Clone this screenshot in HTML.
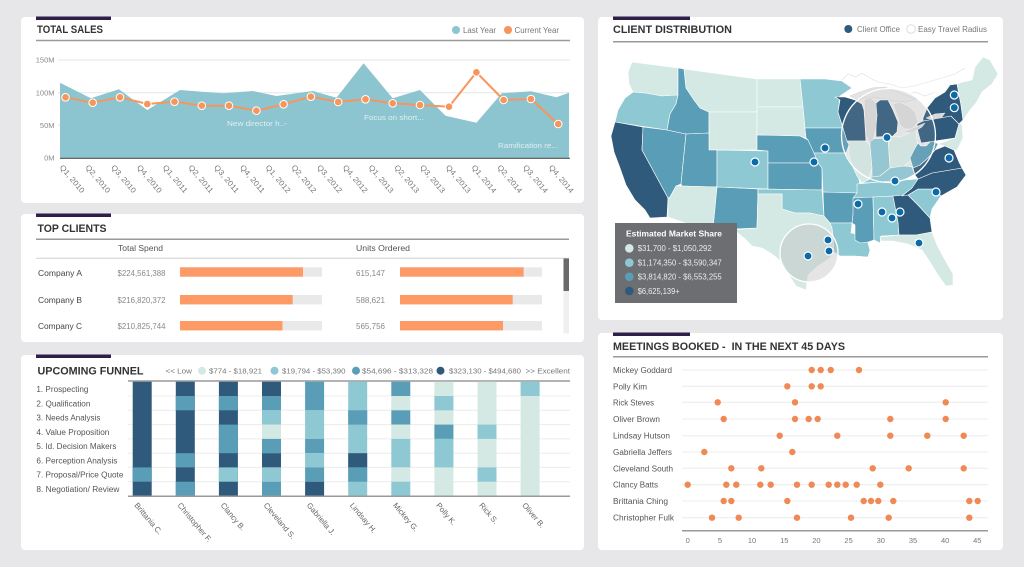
<!DOCTYPE html>
<html><head><meta charset="utf-8"><style>
html,body{margin:0;padding:0;background:#e7e7e9;}
svg{display:block;}
.L{fill:#d4e8e4}.Li{fill:#8ec8d3}.M{fill:#5a9db6}.D{fill:#2f5a7b}
.st path{stroke:#fff;stroke-width:0.6;stroke-linejoin:round}
.t{font-family:"Liberation Sans",sans-serif;}
</style></head><body>
<svg width="1024" height="567" viewBox="0 0 1024 567" class="t" font-family="Liberation Sans, sans-serif">
<rect width="1024" height="567" fill="#e7e7e9"/>
<!-- panels -->
<rect x="21" y="17" width="563" height="186" rx="4" fill="#fff"/>
<rect x="21" y="214" width="563" height="128" rx="4" fill="#fff"/>
<rect x="21" y="355" width="563" height="195" rx="4" fill="#fff"/>
<rect x="598" y="17" width="405" height="303" rx="4" fill="#fff"/>
<rect x="598" y="333" width="405" height="217" rx="4" fill="#fff"/>
<!-- purple accents -->
<rect x="36" y="16.5" width="75" height="3.5" fill="#2d1f47"/>
<rect x="36" y="213.5" width="75" height="3.5" fill="#2d1f47"/>
<rect x="36" y="354.5" width="75" height="3.5" fill="#2d1f47"/>
<rect x="613" y="16.5" width="77" height="3.5" fill="#2d1f47"/>
<rect x="613" y="332.5" width="77" height="3.5" fill="#2d1f47"/>

<!-- ===== TOTAL SALES ===== -->
<text x="37" y="33" font-size="11" font-weight="bold" fill="#333" textLength="66" lengthAdjust="spacingAndGlyphs">TOTAL SALES</text>
<circle cx="456" cy="30" r="4" fill="#8cc5cf"/>
<text x="463" y="33" font-size="8" fill="#777" textLength="33" lengthAdjust="spacingAndGlyphs">Last Year</text>
<circle cx="508" cy="30" r="4" fill="#f7955c"/>
<text x="514.5" y="33" font-size="8" fill="#777" textLength="44.5" lengthAdjust="spacingAndGlyphs">Current Year</text>
<line x1="36" y1="40.5" x2="570" y2="40.5" stroke="#9a9a9a" stroke-width="1.5"/>
<g stroke="#e6e6e6" stroke-width="1">
<line x1="58" y1="60" x2="570" y2="60"/><line x1="58" y1="92.7" x2="570" y2="92.7"/><line x1="58" y1="125.3" x2="570" y2="125.3"/>
</g>
<g font-size="7.5" fill="#8a8a8a" text-anchor="end">
<text x="54.5" y="62.7">150M</text><text x="54.5" y="95.4">100M</text><text x="54.5" y="128">50M</text><text x="54.5" y="160.7">0M</text>
</g>
<path d="M60,82.7 L90.9,98.3 L118.9,89.3 L147.3,110 L180,90 L201.8,91.7 L223.6,93.3 L252.7,91 L276.4,96 L312.7,91 L336.4,97.7 L363.6,63.3 L392.7,98.3 L420,90 L445.5,115.7 L476.4,122.7 L501.8,93.3 L530.9,91.3 L556.4,97.3 L569,92.7 L569,158 L60,158 Z" fill="#8cc5cf"/>
<line x1="60" y1="158.3" x2="570" y2="158.3" stroke="#555" stroke-width="1.2"/>
<g font-size="7.5" fill="#eef7f8" fill-opacity="0.85">
<text x="227" y="126" textLength="60" lengthAdjust="spacingAndGlyphs">New director h..-</text>
<text x="364" y="120" textLength="60" lengthAdjust="spacingAndGlyphs">Focus on short...</text>
<text x="498" y="148" textLength="60" lengthAdjust="spacingAndGlyphs">Ramification re...</text>
</g>
<polyline points="65.5,97.3 92.7,102.7 120,97.3 147.3,104 174.5,101.7 201.8,105.7 229,105.7 256.4,110.7 283.6,104.3 310.9,96.7 338.2,102 365.5,99.3 392.7,103.3 420,105 449,106.7 476.4,72.3 503.6,100 530.9,99 558.2,124" fill="none" stroke="#f7955c" stroke-width="2"/>
<g fill="#f7955c" stroke="#fff" stroke-width="1">
<circle cx="65.5" cy="97.3" r="3.8"/><circle cx="92.7" cy="102.7" r="3.8"/><circle cx="120" cy="97.3" r="3.8"/><circle cx="147.3" cy="104" r="3.8"/><circle cx="174.5" cy="101.7" r="3.8"/><circle cx="201.8" cy="105.7" r="3.8"/><circle cx="229" cy="105.7" r="3.8"/><circle cx="256.4" cy="110.7" r="3.8"/><circle cx="283.6" cy="104.3" r="3.8"/><circle cx="310.9" cy="96.7" r="3.8"/><circle cx="338.2" cy="102" r="3.8"/><circle cx="365.5" cy="99.3" r="3.8"/><circle cx="392.7" cy="103.3" r="3.8"/><circle cx="420" cy="105" r="3.8"/><circle cx="449" cy="106.7" r="3.8"/><circle cx="476.4" cy="72.3" r="3.8"/><circle cx="503.6" cy="100" r="3.8"/><circle cx="530.9" cy="99" r="3.8"/><circle cx="558.2" cy="124" r="3.8"/>
</g>
<g font-size="7.5" fill="#777">
<text transform="translate(59.4,167.5) rotate(50)" textLength="34" lengthAdjust="spacingAndGlyphs">Q1, 2010</text>
<text transform="translate(85.1,167.5) rotate(50)" textLength="34" lengthAdjust="spacingAndGlyphs">Q2, 2010</text>
<text transform="translate(110.9,167.5) rotate(50)" textLength="34" lengthAdjust="spacingAndGlyphs">Q3, 2010</text>
<text transform="translate(136.6,167.5) rotate(50)" textLength="34" lengthAdjust="spacingAndGlyphs">Q4, 2010</text>
<text transform="translate(162.4,167.5) rotate(50)" textLength="34" lengthAdjust="spacingAndGlyphs">Q1, 2011</text>
<text transform="translate(188.1,167.5) rotate(50)" textLength="34" lengthAdjust="spacingAndGlyphs">Q2, 2011</text>
<text transform="translate(213.8,167.5) rotate(50)" textLength="34" lengthAdjust="spacingAndGlyphs">Q3, 2011</text>
<text transform="translate(239.6,167.5) rotate(50)" textLength="34" lengthAdjust="spacingAndGlyphs">Q4, 2011</text>
<text transform="translate(265.3,167.5) rotate(50)" textLength="34" lengthAdjust="spacingAndGlyphs">Q1, 2012</text>
<text transform="translate(291.1,167.5) rotate(50)" textLength="34" lengthAdjust="spacingAndGlyphs">Q2, 2012</text>
<text transform="translate(316.8,167.5) rotate(50)" textLength="34" lengthAdjust="spacingAndGlyphs">Q3, 2012</text>
<text transform="translate(342.5,167.5) rotate(50)" textLength="34" lengthAdjust="spacingAndGlyphs">Q4, 2012</text>
<text transform="translate(368.3,167.5) rotate(50)" textLength="34" lengthAdjust="spacingAndGlyphs">Q1, 2013</text>
<text transform="translate(394,167.5) rotate(50)" textLength="34" lengthAdjust="spacingAndGlyphs">Q2, 2013</text>
<text transform="translate(419.8,167.5) rotate(50)" textLength="34" lengthAdjust="spacingAndGlyphs">Q3, 2013</text>
<text transform="translate(445.5,167.5) rotate(50)" textLength="34" lengthAdjust="spacingAndGlyphs">Q4, 2013</text>
<text transform="translate(471.2,167.5) rotate(50)" textLength="34" lengthAdjust="spacingAndGlyphs">Q1, 2014</text>
<text transform="translate(497,167.5) rotate(50)" textLength="34" lengthAdjust="spacingAndGlyphs">Q2, 2014</text>
<text transform="translate(522.7,167.5) rotate(50)" textLength="34" lengthAdjust="spacingAndGlyphs">Q3, 2014</text>
<text transform="translate(548.5,167.5) rotate(50)" textLength="34" lengthAdjust="spacingAndGlyphs">Q4, 2014</text>
</g>

<!-- ===== TOP CLIENTS ===== -->
<text x="37.5" y="232" font-size="11" font-weight="bold" fill="#333" textLength="69" lengthAdjust="spacingAndGlyphs">TOP CLIENTS</text>
<line x1="36" y1="239.3" x2="569" y2="239.3" stroke="#9a9a9a" stroke-width="1.5"/>
<text x="118" y="251" font-size="8" fill="#555" textLength="45" lengthAdjust="spacingAndGlyphs">Total Spend</text>
<text x="356" y="251" font-size="8" fill="#555" textLength="54" lengthAdjust="spacingAndGlyphs">Units Ordered</text>
<line x1="36" y1="258.3" x2="569" y2="258.3" stroke="#cfcfcf" stroke-width="1"/>
<rect x="563.5" y="258.5" width="5.5" height="75" fill="#efefef"/>
<rect x="563.5" y="258.5" width="5.5" height="32.5" fill="#6a6a6a"/>
<g font-size="8">
<text x="38" y="276" fill="#444" textLength="44" lengthAdjust="spacingAndGlyphs">Company A</text>
<text x="38" y="303" fill="#444" textLength="44" lengthAdjust="spacingAndGlyphs">Company B</text>
<text x="38" y="329" fill="#444" textLength="44" lengthAdjust="spacingAndGlyphs">Company C</text>
<text x="117.5" y="276" fill="#888" textLength="48" lengthAdjust="spacingAndGlyphs">$224,561,388</text>
<text x="117.5" y="303" fill="#888" textLength="48" lengthAdjust="spacingAndGlyphs">$216,820,372</text>
<text x="117.5" y="329" fill="#888" textLength="48" lengthAdjust="spacingAndGlyphs">$210,825,744</text>
<text x="356" y="276" fill="#888" textLength="29" lengthAdjust="spacingAndGlyphs">615,147</text>
<text x="356" y="303" fill="#888" textLength="29" lengthAdjust="spacingAndGlyphs">588,621</text>
<text x="356" y="329" fill="#888" textLength="29" lengthAdjust="spacingAndGlyphs">565,756</text>
</g>
<g fill="#e9e9e9">
<rect x="180" y="267.3" width="142" height="9.4"/><rect x="180" y="295" width="142" height="9.4"/><rect x="180" y="321" width="142" height="9.4"/>
<rect x="400" y="267.3" width="142" height="9.4"/><rect x="400" y="295" width="142" height="9.4"/><rect x="400" y="321" width="142" height="9.4"/>
</g>
<g fill="#fd9a66">
<rect x="180" y="267.3" width="123" height="9.4"/><rect x="180" y="295" width="112.7" height="9.4"/><rect x="180" y="321" width="102.5" height="9.4"/>
<rect x="400" y="267.3" width="123.6" height="9.4"/><rect x="400" y="295" width="112.7" height="9.4"/><rect x="400" y="321" width="103" height="9.4"/>
</g>

<!-- ===== UPCOMING FUNNEL ===== -->
<text x="37.5" y="374.5" font-size="11" font-weight="bold" fill="#333" textLength="106" lengthAdjust="spacingAndGlyphs">UPCOMING FUNNEL</text>
<g font-size="7.5" fill="#777">
<text x="165.5" y="373.5" textLength="26.5" lengthAdjust="spacingAndGlyphs">&lt;&lt; Low</text>
<circle cx="202" cy="370.7" r="4" fill="#d4e8e4"/>
<text x="209" y="373.5" textLength="53" lengthAdjust="spacingAndGlyphs">$774 - $18,921</text>
<circle cx="274.5" cy="370.7" r="4" fill="#8ec8d3"/>
<text x="282" y="373.5" textLength="63.5" lengthAdjust="spacingAndGlyphs">$19,794 - $53,390</text>
<circle cx="356" cy="370.7" r="4" fill="#5a9db6"/>
<text x="362" y="373.5" textLength="71" lengthAdjust="spacingAndGlyphs">$54,696 - $313,328</text>
<circle cx="440.5" cy="370.7" r="4" fill="#2f5a7b"/>
<text x="449" y="373.5" textLength="72" lengthAdjust="spacingAndGlyphs">$323,130 - $494,680</text>
<text x="525.5" y="373.5" textLength="44.5" lengthAdjust="spacingAndGlyphs">&gt;&gt; Excellent</text>
</g>
<line x1="128" y1="381" x2="570" y2="381" stroke="#9a9a9a" stroke-width="1.5"/>
<g stroke="#ececec" stroke-width="1">
<line x1="128" y1="396" x2="570" y2="396"/><line x1="128" y1="410.3" x2="570" y2="410.3"/><line x1="128" y1="424.6" x2="570" y2="424.6"/><line x1="128" y1="438.9" x2="570" y2="438.9"/><line x1="128" y1="453.2" x2="570" y2="453.2"/><line x1="128" y1="467.4" x2="570" y2="467.4"/><line x1="128" y1="481.7" x2="570" y2="481.7"/>
</g>
<g font-size="8" fill="#555">
<text x="36.4" y="392" textLength="52" lengthAdjust="spacingAndGlyphs">1. Prospecting</text>
<text x="36.4" y="406.3" textLength="54" lengthAdjust="spacingAndGlyphs">2. Qualification</text>
<text x="36.4" y="420.6" textLength="64" lengthAdjust="spacingAndGlyphs">3. Needs Analysis</text>
<text x="36.4" y="434.9" textLength="73" lengthAdjust="spacingAndGlyphs">4. Value Proposition</text>
<text x="36.4" y="449.2" textLength="80" lengthAdjust="spacingAndGlyphs">5. Id. Decision Makers</text>
<text x="36.4" y="463.4" textLength="81" lengthAdjust="spacingAndGlyphs">6. Perception Analysis</text>
<text x="36.4" y="477.7" textLength="87" lengthAdjust="spacingAndGlyphs">7. Proposal/Price Quote</text>
<text x="36.4" y="492" textLength="83" lengthAdjust="spacingAndGlyphs">8. Negotiation/ Review</text>
</g>
<g>
<rect class="D" x="132.7" y="381.7" width="19" height="114.3"/>
<rect class="M" x="132.7" y="467.4" width="19" height="14.3"/>
<rect class="D" x="175.8" y="381.7" width="19" height="114.3"/>
<rect class="M" x="175.8" y="396" width="19" height="14.3"/>
<rect class="M" x="175.8" y="453.2" width="19" height="14.2"/>
<rect class="M" x="175.8" y="481.7" width="19" height="14.3"/>
<rect class="D" x="218.9" y="381.7" width="19" height="114.3"/>
<rect class="M" x="218.9" y="396" width="19" height="14.3"/>
<rect class="M" x="218.9" y="424.6" width="19" height="28.6"/>
<rect class="Li" x="218.9" y="467.4" width="19" height="14.3"/>
<rect class="D" x="262" y="381.7" width="19" height="14.3"/>
<rect class="M" x="262" y="396" width="19" height="14.3"/>
<rect class="Li" x="262" y="410.3" width="19" height="14.3"/>
<rect class="L" x="262" y="424.6" width="19" height="14.3"/>
<rect class="M" x="262" y="438.9" width="19" height="14.3"/>
<rect class="D" x="262" y="453.2" width="19" height="14.2"/>
<rect class="Li" x="262" y="467.4" width="19" height="14.3"/>
<rect class="M" x="262" y="481.7" width="19" height="14.3"/>
<rect class="M" x="305.1" y="381.7" width="19" height="28.6"/>
<rect class="Li" x="305.1" y="410.3" width="19" height="28.6"/>
<rect class="M" x="305.1" y="438.9" width="19" height="14.3"/>
<rect class="Li" x="305.1" y="453.2" width="19" height="14.2"/>
<rect class="M" x="305.1" y="467.4" width="19" height="14.3"/>
<rect class="D" x="305.1" y="481.7" width="19" height="14.3"/>
<rect class="Li" x="348.2" y="381.7" width="19" height="114.3"/>
<rect class="M" x="348.2" y="410.3" width="19" height="14.3"/>
<rect class="D" x="348.2" y="453.2" width="19" height="14.2"/>
<rect class="M" x="348.2" y="467.4" width="19" height="14.3"/>
<rect class="M" x="391.3" y="381.7" width="19" height="14.3"/>
<rect class="L" x="391.3" y="396" width="19" height="14.3"/>
<rect class="M" x="391.3" y="410.3" width="19" height="14.3"/>
<rect class="L" x="391.3" y="424.6" width="19" height="14.3"/>
<rect class="Li" x="391.3" y="438.9" width="19" height="28.5"/>
<rect class="L" x="391.3" y="467.4" width="19" height="14.3"/>
<rect class="Li" x="391.3" y="481.7" width="19" height="14.3"/>
<rect class="L" x="434.4" y="381.7" width="19" height="114.3"/>
<rect class="Li" x="434.4" y="396" width="19" height="14.3"/>
<rect class="M" x="434.4" y="424.6" width="19" height="14.3"/>
<rect class="Li" x="434.4" y="438.9" width="19" height="28.5"/>
<rect class="L" x="477.5" y="381.7" width="19" height="114.3"/>
<rect class="Li" x="477.5" y="424.6" width="19" height="14.3"/>
<rect class="Li" x="477.5" y="467.4" width="19" height="14.3"/>
<rect class="L" x="520.6" y="381.7" width="19" height="114.3"/>
<rect class="Li" x="520.6" y="381.7" width="19" height="14.3"/>
</g>
<line x1="128" y1="496.3" x2="570" y2="496.3" stroke="#9a9a9a" stroke-width="1.5"/>
<g font-size="7.8" fill="#666">
<text transform="translate(134,505.5) rotate(50)">Brittania C.</text>
<text transform="translate(177.1,505.5) rotate(50)">Christopher F.</text>
<text transform="translate(220.2,505.5) rotate(50)">Clancy B.</text>
<text transform="translate(263.3,505.5) rotate(50)">Cleveland S.</text>
<text transform="translate(306.4,505.5) rotate(50)">Gabriella J.</text>
<text transform="translate(349.5,505.5) rotate(50)">Lindsay H.</text>
<text transform="translate(392.6,505.5) rotate(50)">Mickey G.</text>
<text transform="translate(435.7,505.5) rotate(50)">Polly K.</text>
<text transform="translate(478.8,505.5) rotate(50)">Rick S.</text>
<text transform="translate(521.9,505.5) rotate(50)">Oliver B.</text>
</g>

<!-- ===== CLIENT DISTRIBUTION ===== -->
<text x="613" y="33" font-size="11" font-weight="bold" fill="#333" textLength="119" lengthAdjust="spacingAndGlyphs">CLIENT DISTRIBUTION</text>
<circle cx="848.3" cy="29" r="4" fill="#2f5a7b"/>
<text x="857" y="32" font-size="8" fill="#777" textLength="43" lengthAdjust="spacingAndGlyphs">Client Office</text>
<circle cx="911" cy="29" r="4.3" fill="#fff" stroke="#ddd" stroke-width="1"/>
<text x="918" y="32" font-size="8" fill="#777" textLength="69" lengthAdjust="spacingAndGlyphs">Easy Travel Radius</text>
<line x1="613" y1="41.7" x2="988" y2="41.7" stroke="#9a9a9a" stroke-width="1.5"/>

<!-- faint canada outlines -->
<g fill="none" stroke="#dedede" stroke-width="0.6">
<path d="M842,80 L848,74 L856,77 L862,73 L870,78 L878,82"/>
<path d="M878,82 L890,84 L902,88 L914,86 L928,82 L942,78 L955,74 L965,68"/>
<path d="M905,96 L915,92 L925,96 L935,92"/>
</g>
<!-- gray underlay inside travel circle -->
<circle cx="888.5" cy="135.5" r="47" fill="#e8e8e8"/>
<!-- Upper peninsula land -->
<path d="M850,96 L860,92 L872,88 L885,87 L895,91 L905,95 L916,99 L906,102 L893,101 L880,98 L868,97 L858,100 Z" fill="#e4e4e4" stroke="#cfcfcf" stroke-width="0.5"/>

<g class="st">
<path class="L" d="M632,62 L678,68 L678,95 L662,96 L645,93 L633,92 L629,84 L628,72 Z"/>
<path class="Li" d="M633,92 L645,93 L662,96 L678,95 L676,104 L670,114 L667,130 L640,126 L615,122 L618,110 L625,98 Z"/>
<path class="D" d="M615,122 L643,127 L642,150 L668,198 L667,217 L650,218 L645,210 L635,200 L626,185 L620,168 L614,152 L611,136 Z"/>
<path class="M" d="M643,127 L667,130 L686,134 L681,184 L676,186 L670,197 L668,198 L642,150 Z"/>
<path class="M" d="M678,68 L684,69 L686,88 L694,100 L700,108 L709,112 L709,133 L686,134 L667,130 L670,114 L676,104 L678,95 Z"/>
<path class="L" d="M684,69 L720,74 L757,79 L757,112 L709,112 L700,108 L694,100 L686,88 Z"/>
<path class="L" d="M709,112 L757,112 L757,150 L709,150 Z"/>
<path class="M" d="M686,134 L709,133 L709,150 L717,150 L717,187 L682,186 L681,184 Z"/>
<path class="Li" d="M717,150 L768,151 L768,189 L717,187 Z"/>
<path class="L" d="M682,186 L717,187 L713,229 L697,227 L668,217 L668,198 L670,197 L676,186 Z"/>
<path class="M" d="M717,187 L758,189 L757,228 L732,229 L732,232 L714,231 L713,229 Z"/>
<path class="L" d="M757,79 L800,79 L803,107 L757,107 Z"/>
<path class="L" d="M757,107 L803,107 L805,128 L806,138 L800,136 L757,135 Z"/>
<path class="M" d="M757,135 L800,136 L808,140 L814,150 L818,163 L768,163 L768,151 L757,150 Z"/>
<path class="M" d="M768,163 L818,163 L822,168 L822,190 L768,189 Z"/>
<path class="Li" d="M758,189 L822,190 L824,216 L810,213 L795,213 L782,209 L782,194 L758,194 Z"/>
<path class="L" d="M758,194 L782,194 L782,209 L795,213 L810,213 L824,216 L832,218 L833,235 L836,250 L830,258 L818,266 L808,275 L806,290 L796,286 L789,275 L782,262 L772,254 L762,248 L752,246 L744,238 L734,230 L757,228 Z"/>
<path class="Li" d="M800,79 L825,79 L842,81 L852,88 L840,96 L838,112 L843,128 L805,128 L803,107 Z"/>
<path class="M" d="M805,128 L843,128 L848,135 L849,145 L846,153 L814,153 L808,140 L806,138 Z"/>
<path class="Li" d="M814,153 L846,153 L850,160 L857,170 L860,185 L857,193 L823,192 L822,168 L818,163 Z"/>
<path class="M" d="M823,192 L857,193 L855,205 L853,215 L852,223 L830,223 L824,216 Z"/>
<path class="Li" d="M830,223 L852,223 L851,233 L866,236 L870,250 L868,257 L855,256 L840,256 L834,252 L833,235 L832,228 Z"/>
<path class="D" d="M835,97 L845,97 L855,100 L862,104 L864,110 L865,125 L866,141 L847,141 L843,128 L838,112 L840,100 Z"/>
<path class="L" d="M847,141 L866,141 L870,145 L872,168 L868,180 L862,183 L857,176 L852,165 L849,155 L849,145 Z"/>
<path class="D" d="M875,104 L880,100 L888,100 L893,110 L898,122 L897,132 L893,136 L876,137 L876,125 L877,115 Z"/>
<path class="Li" d="M870,139 L888,138 L890,168 L880,176 L872,177 L872,168 L870,145 Z"/>
<path class="L" d="M888,136 L900,137 L916,130 L918,150 L912,160 L904,166 L890,168 Z"/>
<path class="Li" d="M862,183 L868,180 L872,177 L880,176 L890,168 L904,166 L912,167 L915,175 L905,180 L880,182 Z"/>
<path class="Li" d="M857,184 L880,182 L905,180 L918,179 L912,188 L902,196 L853,198 L857,193 Z"/>
<path class="M" d="M853,198 L873,197 L874,240 L868,242 L860,243 L855,240 L855,225 L852,223 L853,215 Z"/>
<path class="Li" d="M873,197 L893,196 L898,222 L899,235 L881,236 L880,243 L874,240 Z"/>
<path class="D" d="M893,196 L908,195 L918,205 L930,218 L932,232 L916,235 L899,235 L898,222 Z"/>
<path class="L" d="M880,237 L899,235 L916,235 L932,232 L937,245 L945,260 L953,274 L953,285 L946,286 L938,275 L930,262 L922,250 L908,244 L893,241 L881,241 Z"/>
<path class="Li" d="M908,195 L918,189 L935,189 L941,196 L932,209 L930,218 L918,205 Z"/>
<path class="D" d="M902,196 L912,188 L918,179 L932,173 L962,168 L966,175 L957,187 L941,196 L935,189 L918,189 L908,195 Z"/>
<path class="D" d="M915,175 L913,168 L920,165 L928,158 L935,150 L945,146 L954,150 L959,162 L962,168 L932,173 L918,179 Z"/>
<path class="M" d="M913,168 L910,158 L914,150 L918,143 L921,146 L926,146 L932,140 L938,144 L935,150 L928,158 L920,165 Z"/>
<path class="D" d="M917,124 L923,121 L951,116 L959,124 L955,138 L921,143 L918,132 Z"/>
<path class="D" d="M923,118 L927,108 L935,98 L945,92 L950,85 L957,84 L961,105 L963,120 L959,124 L951,116 L923,121 Z"/>
<path class="L" d="M957,84 L963,82 L972,80 L975,67 L983,57 L990,60 L998,74 L992,84 L982,92 L976,103 L970,110 L963,120 L961,105 Z"/>
<path class="L" d="M959,124 L962,124 L963,138 L957,150 L954,150 L945,146 L938,144 L955,138 Z"/>
</g>
<!-- lakes -->
<g fill="#d8d8d8" stroke="#f4f4f4" stroke-width="0.5">
<path d="M864,100 L870,97 L876,103 L877,115 L876,128 L873,140 L869,142 L866,135 L865,120 Z"/>
<path d="M893,104 L900,102 L908,106 L915,112 L918,122 L912,129 L905,129 L900,125 L898,117 L895,110 Z"/>
<path d="M903,132 L913,128 L925,123 L922,127 L912,133 Z"/>
<path d="M926,118 L935,114 L945,113 L942,117 L930,119 Z"/>
</g>
<!-- radius circles -->
<circle cx="888.5" cy="135.5" r="47" fill="#c8c8c8" fill-opacity="0.12" stroke="#fff" stroke-width="1.3"/>
<circle cx="809" cy="253" r="29" fill="#bdbdbd" fill-opacity="0.4" stroke="#fff" stroke-width="1.3"/>
<!-- offices -->
<g fill="#0b6aa8" stroke="#fff" stroke-width="1.2">
<circle cx="755" cy="162" r="4"/><circle cx="825" cy="148" r="4"/><circle cx="814" cy="162" r="4"/><circle cx="887" cy="137.5" r="4"/><circle cx="895" cy="181" r="4"/><circle cx="954.3" cy="95" r="4"/><circle cx="954.3" cy="107.7" r="4"/><circle cx="949" cy="158" r="4"/><circle cx="936" cy="192" r="4"/><circle cx="858" cy="204" r="4"/><circle cx="882" cy="212" r="4"/><circle cx="892" cy="218" r="4"/><circle cx="900" cy="212" r="4"/><circle cx="919" cy="243" r="4"/><circle cx="828" cy="240" r="4"/><circle cx="829" cy="251" r="4"/><circle cx="808" cy="256" r="4"/>
</g>
<!-- map legend -->
<rect x="615" y="223" width="122" height="80" fill="#6d6e71"/>
<text x="626" y="236.5" font-size="8.5" font-weight="bold" fill="#fff" textLength="96" lengthAdjust="spacingAndGlyphs">Estimated Market Share</text>
<circle cx="629.3" cy="248.3" r="4.3" fill="#d4e8e4"/>
<circle cx="629.3" cy="262.7" r="4.3" fill="#8ec8d3"/>
<circle cx="629.3" cy="276.7" r="4.3" fill="#5a9db6"/>
<circle cx="629.3" cy="291" r="4.3" fill="#2f5a7b"/>
<g font-size="8" fill="#ececec">
<text x="637.7" y="251.2" textLength="74" lengthAdjust="spacingAndGlyphs">$31,700 - $1,050,292</text>
<text x="637.7" y="265.6" textLength="84" lengthAdjust="spacingAndGlyphs">$1,174,350 - $3,590,347</text>
<text x="637.7" y="279.6" textLength="84" lengthAdjust="spacingAndGlyphs">$3,814,820 - $6,553,255</text>
<text x="637.7" y="293.9" textLength="42" lengthAdjust="spacingAndGlyphs">$6,625,139+</text>
</g>

<!-- ===== MEETINGS BOOKED ===== -->
<text x="613" y="350" font-size="11" font-weight="bold" fill="#333" textLength="232" lengthAdjust="spacingAndGlyphs">MEETINGS BOOKED -&#160; IN THE NEXT 45 DAYS</text>
<line x1="613" y1="356.7" x2="988" y2="356.7" stroke="#9a9a9a" stroke-width="1.5"/>
<g stroke="#ececec" stroke-width="1">
<line x1="682" y1="370" x2="988" y2="370"/><line x1="682" y1="386.3" x2="988" y2="386.3"/><line x1="682" y1="402.3" x2="988" y2="402.3"/><line x1="682" y1="419" x2="988" y2="419"/><line x1="682" y1="435.7" x2="988" y2="435.7"/><line x1="682" y1="452" x2="988" y2="452"/><line x1="682" y1="468.3" x2="988" y2="468.3"/><line x1="682" y1="484.7" x2="988" y2="484.7"/><line x1="682" y1="501" x2="988" y2="501"/><line x1="682" y1="517.7" x2="988" y2="517.7"/>
</g>
<g font-size="8" fill="#555">
<text x="613" y="373" textLength="59" lengthAdjust="spacingAndGlyphs">Mickey Goddard</text>
<text x="613" y="389.3" textLength="34" lengthAdjust="spacingAndGlyphs">Polly Kim</text>
<text x="613" y="405.3" textLength="41" lengthAdjust="spacingAndGlyphs">Rick Steves</text>
<text x="613" y="422" textLength="47" lengthAdjust="spacingAndGlyphs">Oliver Brown</text>
<text x="613" y="438.7" textLength="57" lengthAdjust="spacingAndGlyphs">Lindsay Hutson</text>
<text x="613" y="455" textLength="59" lengthAdjust="spacingAndGlyphs">Gabriella Jeffers</text>
<text x="613" y="471.3" textLength="60" lengthAdjust="spacingAndGlyphs">Cleveland South</text>
<text x="613" y="487.7" textLength="45" lengthAdjust="spacingAndGlyphs">Clancy Batts</text>
<text x="613" y="504" textLength="55" lengthAdjust="spacingAndGlyphs">Brittania Ching</text>
<text x="613" y="520.7" textLength="61" lengthAdjust="spacingAndGlyphs">Christopher Fulk</text>
</g>
<g fill="#f08a55">
<circle cx="811.7" cy="370" r="3.2"/><circle cx="820.7" cy="370" r="3.2"/><circle cx="830.7" cy="370" r="3.2"/><circle cx="859" cy="370" r="3.2"/>
<circle cx="787.3" cy="386.3" r="3.2"/><circle cx="811.7" cy="386.3" r="3.2"/><circle cx="820.7" cy="386.3" r="3.2"/>
<circle cx="717.7" cy="402.3" r="3.2"/><circle cx="795" cy="402.3" r="3.2"/><circle cx="945.7" cy="402.3" r="3.2"/>
<circle cx="723.7" cy="419" r="3.2"/><circle cx="795" cy="419" r="3.2"/><circle cx="808.7" cy="419" r="3.2"/><circle cx="817.7" cy="419" r="3.2"/><circle cx="890.3" cy="419" r="3.2"/><circle cx="945.7" cy="419" r="3.2"/>
<circle cx="779.7" cy="435.7" r="3.2"/><circle cx="837.3" cy="435.7" r="3.2"/><circle cx="890.3" cy="435.7" r="3.2"/><circle cx="927.3" cy="435.7" r="3.2"/><circle cx="963.7" cy="435.7" r="3.2"/>
<circle cx="704.3" cy="452" r="3.2"/><circle cx="792.3" cy="452" r="3.2"/>
<circle cx="731.3" cy="468.3" r="3.2"/><circle cx="761.3" cy="468.3" r="3.2"/><circle cx="872.7" cy="468.3" r="3.2"/><circle cx="908.7" cy="468.3" r="3.2"/><circle cx="963.7" cy="468.3" r="3.2"/>
<circle cx="687.7" cy="484.7" r="3.2"/><circle cx="726.3" cy="484.7" r="3.2"/><circle cx="736.3" cy="484.7" r="3.2"/><circle cx="760.3" cy="484.7" r="3.2"/><circle cx="770.7" cy="484.7" r="3.2"/><circle cx="797" cy="484.7" r="3.2"/><circle cx="811.7" cy="484.7" r="3.2"/><circle cx="828.7" cy="484.7" r="3.2"/><circle cx="837.3" cy="484.7" r="3.2"/><circle cx="845.7" cy="484.7" r="3.2"/><circle cx="856.7" cy="484.7" r="3.2"/><circle cx="880.3" cy="484.7" r="3.2"/>
<circle cx="723.7" cy="501" r="3.2"/><circle cx="731.3" cy="501" r="3.2"/><circle cx="787.3" cy="501" r="3.2"/><circle cx="863.7" cy="501" r="3.2"/><circle cx="871" cy="501" r="3.2"/><circle cx="878.3" cy="501" r="3.2"/><circle cx="893.3" cy="501" r="3.2"/><circle cx="969.3" cy="501" r="3.2"/><circle cx="977.7" cy="501" r="3.2"/>
<circle cx="712" cy="517.7" r="3.2"/><circle cx="738.7" cy="517.7" r="3.2"/><circle cx="797" cy="517.7" r="3.2"/><circle cx="851" cy="517.7" r="3.2"/><circle cx="888.7" cy="517.7" r="3.2"/><circle cx="969.3" cy="517.7" r="3.2"/>
</g>
<line x1="682" y1="530.7" x2="988" y2="530.7" stroke="#9a9a9a" stroke-width="1.5"/>
<g font-size="7.5" fill="#777" text-anchor="middle">
<text x="687.7" y="543">0</text><text x="719.9" y="543">5</text><text x="752" y="543">10</text><text x="784.3" y="543">15</text><text x="816.4" y="543">20</text><text x="848.6" y="543">25</text><text x="880.8" y="543">30</text><text x="913" y="543">35</text><text x="945.2" y="543">40</text><text x="977.3" y="543">45</text>
</g>
</svg>
</body></html>
